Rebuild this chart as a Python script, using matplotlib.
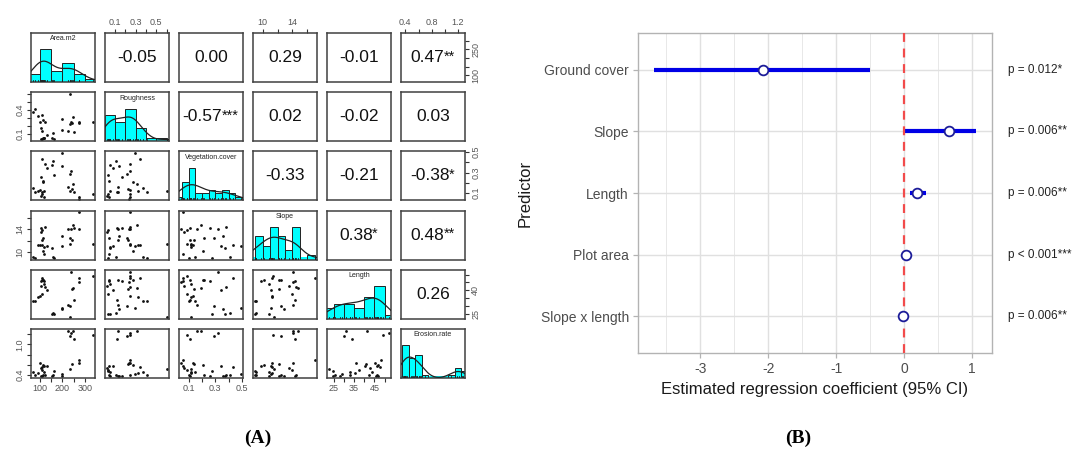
import numpy as np
import matplotlib
matplotlib.use("Agg")
import matplotlib.pyplot as plt
from matplotlib.transforms import blended_transform_factory

plt.rcParams['font.family'] = ['Liberation Sans', 'DejaVu Sans']
plt.rcParams['axes.unicode_minus'] = False

# ---- panel A data ----
var_names = ["Area.m2", "Roughness", "Vegetation.cover", "Slope", "Length", "Erosion.rate"]
area = [334, 276, 272, 253, 246, 243, 239, 236, 234, 226, 201, 198, 166, 160, 154,
        73, 80, 95, 103, 107, 108, 110, 111, 113, 115, 117, 119, 122, 125, 131]
roughness = [0.25, 0.25, 0.24, 0.12, 0.31, 0.23, 0.25, 0.215, 0.60, 0.13, 0.29, 0.14, 0.036, 0.11, 0.05,
             0.37, 0.41, 0.32, 0.25, 0.17, 0.027, 0.34, 0.13, 0.03, 0.04, 0.27, 0.05, 0.045, 0.25, 0.08]
veg_cover = [0.09, 0.06, 0.045, 0.11, 0.19, 0.14, 0.32, 0.29, 0.12, 0.16, 0.49, 0.36, 0.275, 0.41, 0.37,
             0.148, 0.105, 0.12, 0.13, 0.26, 0.067, 0.43, 0.11, 0.088, 0.215, 0.205, 0.12, 0.06, 0.38, 0.345]
slope = [11.4, 17.0, 14.1, 14.3, 14.8, 12.2, 14.1, 12.5, 11.5, 14.1, 11.1, 12.8, 9.0, 9.1, 10.8,
         9.1, 9.0, 11.2, 11.3, 14.3, 13.5, 11.2, 12.2, 13.9, 12.5, 10.2, 10.9, 9.7, 14.5, 11.1]
length = [49.0, 48.0, 45.4, 34.0, 41.4, 41.0, 52.0, 29.8, 22.8, 30.8, 28.8, 28.2, 24.8, 25.4, 24.4,
          32.8, 33.2, 35.4, 36.0, 45.8, 42.8, 47.8, 46.9, 37.4, 46.5, 46.8, 43.8, 46.2, 42.2, 40.2]
erosion = [1.18, 0.70, 0.64, 1.10, 1.27, 0.61, 1.22, 1.16, 0.52, 1.26, 0.41, 0.38, 0.48, 0.40, 0.38,
           0.46, 0.40, 0.43, 0.63, 0.38, 0.53, 0.56, 0.37, 0.50, 0.39, 0.60, 0.46, 0.58, 0.40, 0.57]

corr_values = {(0, 1): "-0.05", (0, 2): "0.00", (0, 3): "0.29", (0, 4): "-0.01", (0, 5): "0.47",
               (1, 2): "-0.57", (1, 3): "0.02", (1, 4): "-0.02", (1, 5): "0.03",
               (2, 3): "-0.33", (2, 4): "-0.21", (2, 5): "-0.38",
               (3, 4): "0.38", (3, 5): "0.48",
               (4, 5): "0.26"}
corr_stars = {(0, 5): "**", (1, 2): "***", (2, 5): "*", (3, 4): "*", (3, 5): "**"}

# ---- panel B data ----
predictors = ["Ground cover", "Slope", "Length", "Plot area", "Slope x length"]
estimate = [-2.07, 0.66, 0.19, 0.03, -0.01]
ci_low = [-3.68, 0.01, 0.09, 0.02, -0.02]
ci_high = [-0.50, 1.06, 0.32, 0.04, 0.00]
p_labels = ["p = 0.012*", "p = 0.006**", "p = 0.006**", "p < 0.001***", "p = 0.006**"]

W, H = 1076, 457
fig = plt.figure(figsize=(W / 100, H / 100), dpi=100)


def px_axes(x0, y0, x1, y1):
    return fig.add_axes([x0 / W, 1 - y1 / H, (x1 - x0) / W, (y1 - y0) / H])


def kde(x, grid):
    x = np.asarray(x, float)
    n = len(x)
    iqr = np.subtract(*np.percentile(x, [75, 25]))
    bw = 1.3 * 0.9 * min(x.std(ddof=1), iqr / 1.34) * n ** -0.2
    z = (grid[:, None] - x[None, :]) / bw
    return np.exp(-0.5 * z ** 2).sum(1) / (n * bw * np.sqrt(2 * np.pi))


data = [np.array(v, float) for v in (area, roughness, veg_cover, slope, length, erosion)]
bins = [np.arange(50, 351, 50), np.arange(0, 0.61, 0.1), np.arange(0, 0.51, 0.05),
        np.arange(9, 18, 1), np.arange(20, 56, 5), np.arange(0.35, 1.36, 0.1)]
lims = []
for d in data:
    r = d.max() - d.min()
    lims.append((d.min() - 0.04 * r, d.max() + 0.04 * r))

top_ticks = {1: ([0.1, 0.2, 0.3, 0.4, 0.5, 0.6], ['0.1', '', '0.3', '', '0.5', '']),
             3: ([10, 12, 14, 16], ['10', '', '14', '']),
             5: ([0.4, 0.6, 0.8, 1.0, 1.2], ['0.4', '', '0.8', '', '1.2'])}
bottom_ticks = {0: ([100, 150, 200, 250, 300], ['100', '', '200', '', '300']),
                2: ([0.1, 0.2, 0.3, 0.4, 0.5], ['0.1', '', '0.3', '', '0.5']),
                4: ([25, 30, 35, 40, 45, 50], ['25', '', '35', '', '45', ''])}
left_ticks = {1: ([0.1, 0.2, 0.3, 0.4, 0.5, 0.6], ['0.1', '', '', '0.4', '', '']),
              3: ([10, 12, 14, 16], ['10', '', '14', '']),
              5: ([0.4, 0.6, 0.8, 1.0, 1.2], ['0.4', '', '', '1.0', ''])}
right_ticks = {0: ([100, 150, 200, 250, 300], ['100', '', '', '250', '']),
               2: ([0.1, 0.2, 0.3, 0.4, 0.5], ['0.1', '', '0.3', '', '0.5']),
               4: ([25, 30, 35, 40, 45, 50], ['25', '', '', '40', '', ''])}

tick_kw = dict(direction='out', length=3, width=0.8, color='#333333',
               labelsize=6.5, labelcolor='#555555', pad=1.5)

for i in range(6):
    for j in range(6):
        x0 = 31 + 74 * j
        y0 = 33 + 59.2 * i
        ax = px_axes(x0, y0, x0 + 64, y0 + 49)
        for s in ax.spines.values():
            s.set_color('#404040')
            s.set_linewidth(1.1)
        ax.set_xticks([])
        ax.set_yticks([])
        if i == j:
            d = data[i]
            counts, edges = np.histogram(d, bins=bins[i])
            dens = counts / (len(d) * np.diff(edges))
            top = dens.max() * 1.5
            ax.bar(edges[:-1], dens, width=np.diff(edges), align='edge',
                   color='#00FFFF', edgecolor='#222222', linewidth=0.7, zorder=2)
            grid = np.linspace(lims[i][0], lims[i][1], 300)
            ax.plot(grid, kde(d, grid), color='#222222', lw=0.9, zorder=3)
            ax.set_ylim(0, top)
            ax.axhspan(0, top * 0.05, color='#00FFFF', zorder=1, lw=0)
            for v in d:
                ax.plot([v, v], [0, top * 0.04], color='#222222', lw=0.6, zorder=4)
            ax.text(0.5, 0.88, var_names[i], transform=ax.transAxes, ha='center', va='center',
                    fontsize=5, color='#222222', zorder=5)
        elif i > j:
            ax.scatter(data[j], data[i], s=4, color='#111111', lw=0)
            ax.set_ylim(*lims[i])
        else:
            stars = corr_stars.get((i, j), "")
            t = ax.text(0.5 - 0.045 * len(stars), 0.5, corr_values[(i, j)], transform=ax.transAxes,
                        ha='center', va='center', fontsize=12.5, color='#111111')
            if stars:
                ax.annotate(stars, xy=(1.0, 1.0), xycoords=t, xytext=(-0.5, 0.5),
                            textcoords='offset points', ha='left', va='top',
                            fontsize=10.5, color='#111111')
            ax.set_ylim(*lims[i])

        if i == 0 and j in top_ticks:
            tk, lab = top_ticks[j]
            ax.set_xticks(tk)
            ax.set_xticklabels(lab)
            ax.tick_params(axis='x', top=True, bottom=False, labeltop=True, labelbottom=False, **tick_kw)
        if i == 5 and j in bottom_ticks:
            tk, lab = bottom_ticks[j]
            ax.set_xticks(tk)
            ax.set_xticklabels(lab)
            ax.tick_params(axis='x', top=False, bottom=True, labeltop=False, labelbottom=True, **tick_kw)
        if j == 0 and i in left_ticks:
            tk, lab = left_ticks[i]
            ax.set_yticks(tk)
            ax.set_yticklabels(lab, rotation=90, va='center')
            ax.tick_params(axis='y', left=True, right=False, labelleft=True, labelright=False, **tick_kw)
        if j == 5 and i in right_ticks:
            tk, lab = right_ticks[i]
            ax.set_yticks(tk)
            ax.set_yticklabels(lab, rotation=90, va='center')
            ax.tick_params(axis='y', left=False, right=True, labelleft=False, labelright=True, **tick_kw)
        ax.set_xlim(*lims[j])
        if i != j:
            ax.set_ylim(*lims[i])

# ---- panel B ----
axb = px_axes(638, 33, 992, 353)
ypos = np.arange(len(predictors))[::-1] + 1
axb.set_xticks([-3, -2, -1, 0, 1])
axb.set_xticks(np.arange(-3.5, 1.6, 1.0), minor=True)
axb.set_yticks(ypos)
axb.set_yticklabels(predictors)
lo, hi = min(ci_low), max(ci_high)
pad = 0.05 * (hi - lo)
axb.set_xlim(lo - pad, hi + pad)
axb.set_ylim(0.4, len(predictors) + 0.6)
axb.grid(True, which='major', color='#E0E0E0', lw=1.0, zorder=0)
axb.grid(True, which='minor', axis='x', color='#E8E8E8', lw=0.7, zorder=0)
axb.set_axisbelow(True)
for s in axb.spines.values():
    s.set_color('#B3B3B3')
    s.set_linewidth(1.0)
axb.tick_params(axis='both', which='major', direction='out', length=3.5, width=0.9,
                color='#B3B3B3', labelsize=10, labelcolor='#4D4D4D', pad=3)
axb.tick_params(axis='x', which='minor', length=0)

axb.hlines(ypos, ci_low, ci_high, color='#0000E6', lw=3, zorder=2)
axb.axvline(0, color='#F24B4B', ls=(0, (4, 3)), lw=1.6, zorder=3)
axb.plot(estimate, ypos, 'o', mfc='white', mec='#1C1C99', ms=7, mew=1.3, zorder=4)

tr = blended_transform_factory(axb.transAxes, axb.transData)
for y, lab in zip(ypos, p_labels):
    axb.text(1.045, y, lab, transform=tr, ha='left', va='center', fontsize=8.5,
             color='#222222', clip_on=False)

axb.set_xlabel("Estimated regression coefficient (95% CI)", fontsize=12, color='#1A1A1A', labelpad=4)
axb.set_ylabel("Predictor", fontsize=12, color='#1A1A1A', labelpad=6)

fig.text(258 / W, 1 - 438 / H, "(A)", ha='center', va='center', fontsize=14,
         fontweight='bold', family=['Liberation Serif', 'DejaVu Serif'])
fig.text(798 / W, 1 - 438 / H, "(B)", ha='center', va='center', fontsize=14,
         fontweight='bold', family=['Liberation Serif', 'DejaVu Serif'])

fig.savefig("out.png", dpi=100)
